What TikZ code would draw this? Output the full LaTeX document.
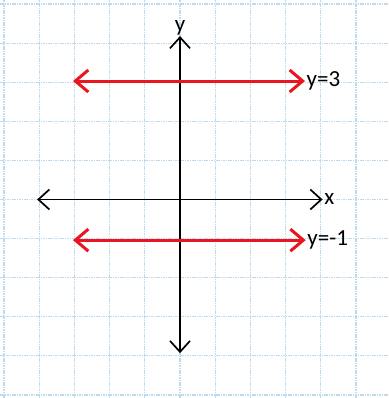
\documentclass[tikz,border=0pt]{standalone}
\usepackage{fontspec}
\setmainfont{Carlito}
\usetikzlibrary{arrows.meta}
\definecolor{GridBlue}{RGB}{190,218,236}
\definecolor{LineRed}{RGB}{232,22,30}

\begin{document}
\begin{tikzpicture}[x=35.2pt,y=39.1pt,
  gridline/.style={draw=GridBlue,line width=1.1pt,dash pattern=on 1.6pt off 0.8pt},
  axis/.style={{Straight Barb[length=11pt,width=20pt]}-{Straight Barb[length=11pt,width=20pt]},
    line width=1.7pt,draw=black},
  level/.style={{Straight Barb[length=13pt,width=22pt]}-{Straight Barb[length=13pt,width=22pt]},
    line width=3pt,draw=LineRed},
  lbl/.style={font=\fontsize{23}{26}\selectfont,inner sep=1.5pt}
]
\useasboundingbox (-5.114,-5.077) rectangle (5.909,5.102);
\fill[white] (-5.114,-5.077) rectangle (5.909,5.102);
% graph paper
\foreach \i in {-5,...,5}
  \draw[gridline] (\i,-5.077) -- (\i,5.102);
\foreach \j in {-5,...,5}
  \draw[gridline] (-5.114,\j) -- (5.909,\j);

% axes
\coordinate (yBot) at (0,-3.93);
\coordinate (xLeft) at (-4.06,0);
\node[lbl,anchor=south,inner sep=0.5pt] (yLab) at (0,4.18) {y};
\node[lbl,anchor=west] (xLab) at (4.05,0) {x};
\draw[axis] (yBot) -- (yLab.south);
\draw[axis] (xLeft) -- (xLab.west);

% horizontal lines
\coordinate (upL) at (-3.04,3.03);
\coordinate (lowL) at (-3.04,-1.04);
\node[lbl,anchor=west] (upLab) at (3.55,3.03) {y=3};
\node[lbl,anchor=west] (lowLab) at (3.57,-1.04) {y=-1};
\draw[level] (upL) -- (upLab.west);
\draw[level] (lowL) -- (lowLab.west);
\end{tikzpicture}
\end{document}
